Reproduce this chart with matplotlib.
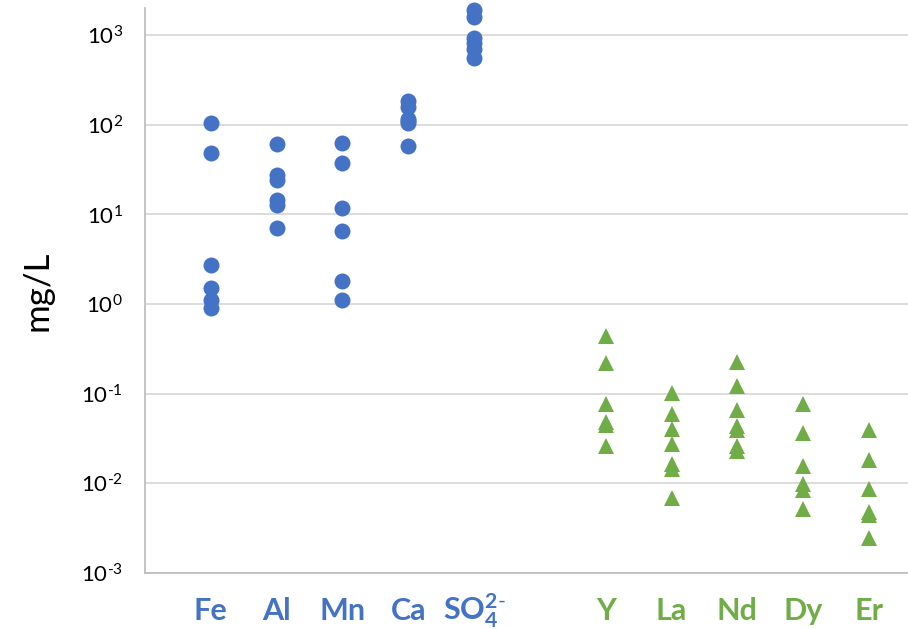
import matplotlib
matplotlib.use("Agg")
import matplotlib.pyplot as plt
from matplotlib.ticker import FixedLocator, NullLocator

plt.rcParams['font.family'] = ['Lato', 'DejaVu Sans']
plt.rcParams['mathtext.fontset'] = 'custom'
plt.rcParams['mathtext.rm'] = 'Lato'
plt.rcParams['mathtext.bf'] = 'Lato:bold'
plt.rcParams['mathtext.it'] = 'Lato:italic'

# Major constituents (mg/L)
major_labels = ['Fe', 'Al', 'Mn', 'Ca', r'$\mathbf{SO_4^{2\text{-}}}$']
fe = [104, 49, 2.7, 1.52, 1.12, 0.90]
al = [60.8, 27.2, 24.3, 14.5, 12.8, 7.0]
mn = [63.3, 37.9, 11.9, 6.56, 1.82, 1.11]
ca = [186, 157, 117, 110, 104, 58.6]
so4 = [1900, 1607, 925, 813, 693, 562]
major_values = [fe, al, mn, ca, so4]

# Rare earth elements (mg/L)
ree_labels = ['Y', 'La', 'Nd', 'Dy', 'Er']
y_ = [0.44, 0.223, 0.0764, 0.0487, 0.045, 0.0261]
la = [0.102, 0.060, 0.0405, 0.0272, 0.0164, 0.0145, 0.0068]
nd = [0.226, 0.122, 0.0655, 0.0434, 0.0397, 0.0264, 0.023]
dy = [0.0764, 0.0369, 0.0157, 0.00975, 0.0085, 0.00512]
er = [0.0395, 0.018, 0.0087, 0.0048, 0.0044, 0.00248]
ree_values = [y_, la, nd, dy, er]

y_ticks = [1e-3, 1e-2, 1e-1, 1e0, 1e1, 1e2, 1e3]
y_tick_labels = [r'$\mathregular{10^{\text{-}3}}$', r'$\mathregular{10^{\text{-}2}}$',
                 r'$\mathregular{10^{\text{-}1}}$', r'$\mathregular{10^{0}}$',
                 r'$\mathregular{10^{1}}$', r'$\mathregular{10^{2}}$',
                 r'$\mathregular{10^{3}}$']

blue = '#4472C4'
green = '#70AD47'

fig = plt.figure(figsize=(9.08, 6.29), dpi=100)
ax = fig.add_axes([145 / 908, 1 - 573 / 629, 1 - 145 / 908, (573 - 8) / 629])

major_pos = list(range(len(major_labels)))
ree_pos = [p + len(major_labels) + 1 for p in range(len(ree_labels))]

for pos, vals in zip(major_pos, major_values):
    ax.plot([pos] * len(vals), vals, 'o', color=blue, ms=11.5,
            markeredgewidth=0, zorder=3, clip_on=False)
for pos, vals in zip(ree_pos, ree_values):
    ax.plot([pos] * len(vals), vals, '^', color=green, ms=12,
            markeredgewidth=0, zorder=3, clip_on=False)

ax.set_yscale('log')
ax.set_ylim(1e-3, 2010)
ax.set_xlim(-1, (908 - 211) / 65.8)

ax.yaxis.set_major_locator(FixedLocator(y_ticks))
ax.yaxis.set_minor_locator(NullLocator())
ax.set_yticklabels(y_tick_labels, fontsize=16)
ax.grid(axis='y', color='#D9D9D9', linewidth=1.3)
ax.set_axisbelow(True)

ax.set_xticks(major_pos + ree_pos)
ax.set_xticklabels(major_labels + ree_labels, fontsize=22, fontweight='bold')
for lbl, col in zip(ax.get_xticklabels(),
                    [blue] * len(major_labels) + [green] * len(ree_labels)):
    lbl.set_color(col)
    lbl.set_verticalalignment('baseline')

ax.tick_params(axis='both', length=0)
ax.tick_params(axis='y', pad=16)
ax.tick_params(axis='x', pad=34)

for side in ['top', 'right']:
    ax.spines[side].set_visible(False)
ax.spines['left'].set_color('#BFBFBF')
ax.spines['bottom'].set_color('#BFBFBF')
ax.spines['left'].set_linewidth(1.3)
ax.spines['bottom'].set_linewidth(1.3)

ax.set_ylabel('mg/L', fontsize=25, labelpad=20)

fig.savefig('out.png', dpi=100)
